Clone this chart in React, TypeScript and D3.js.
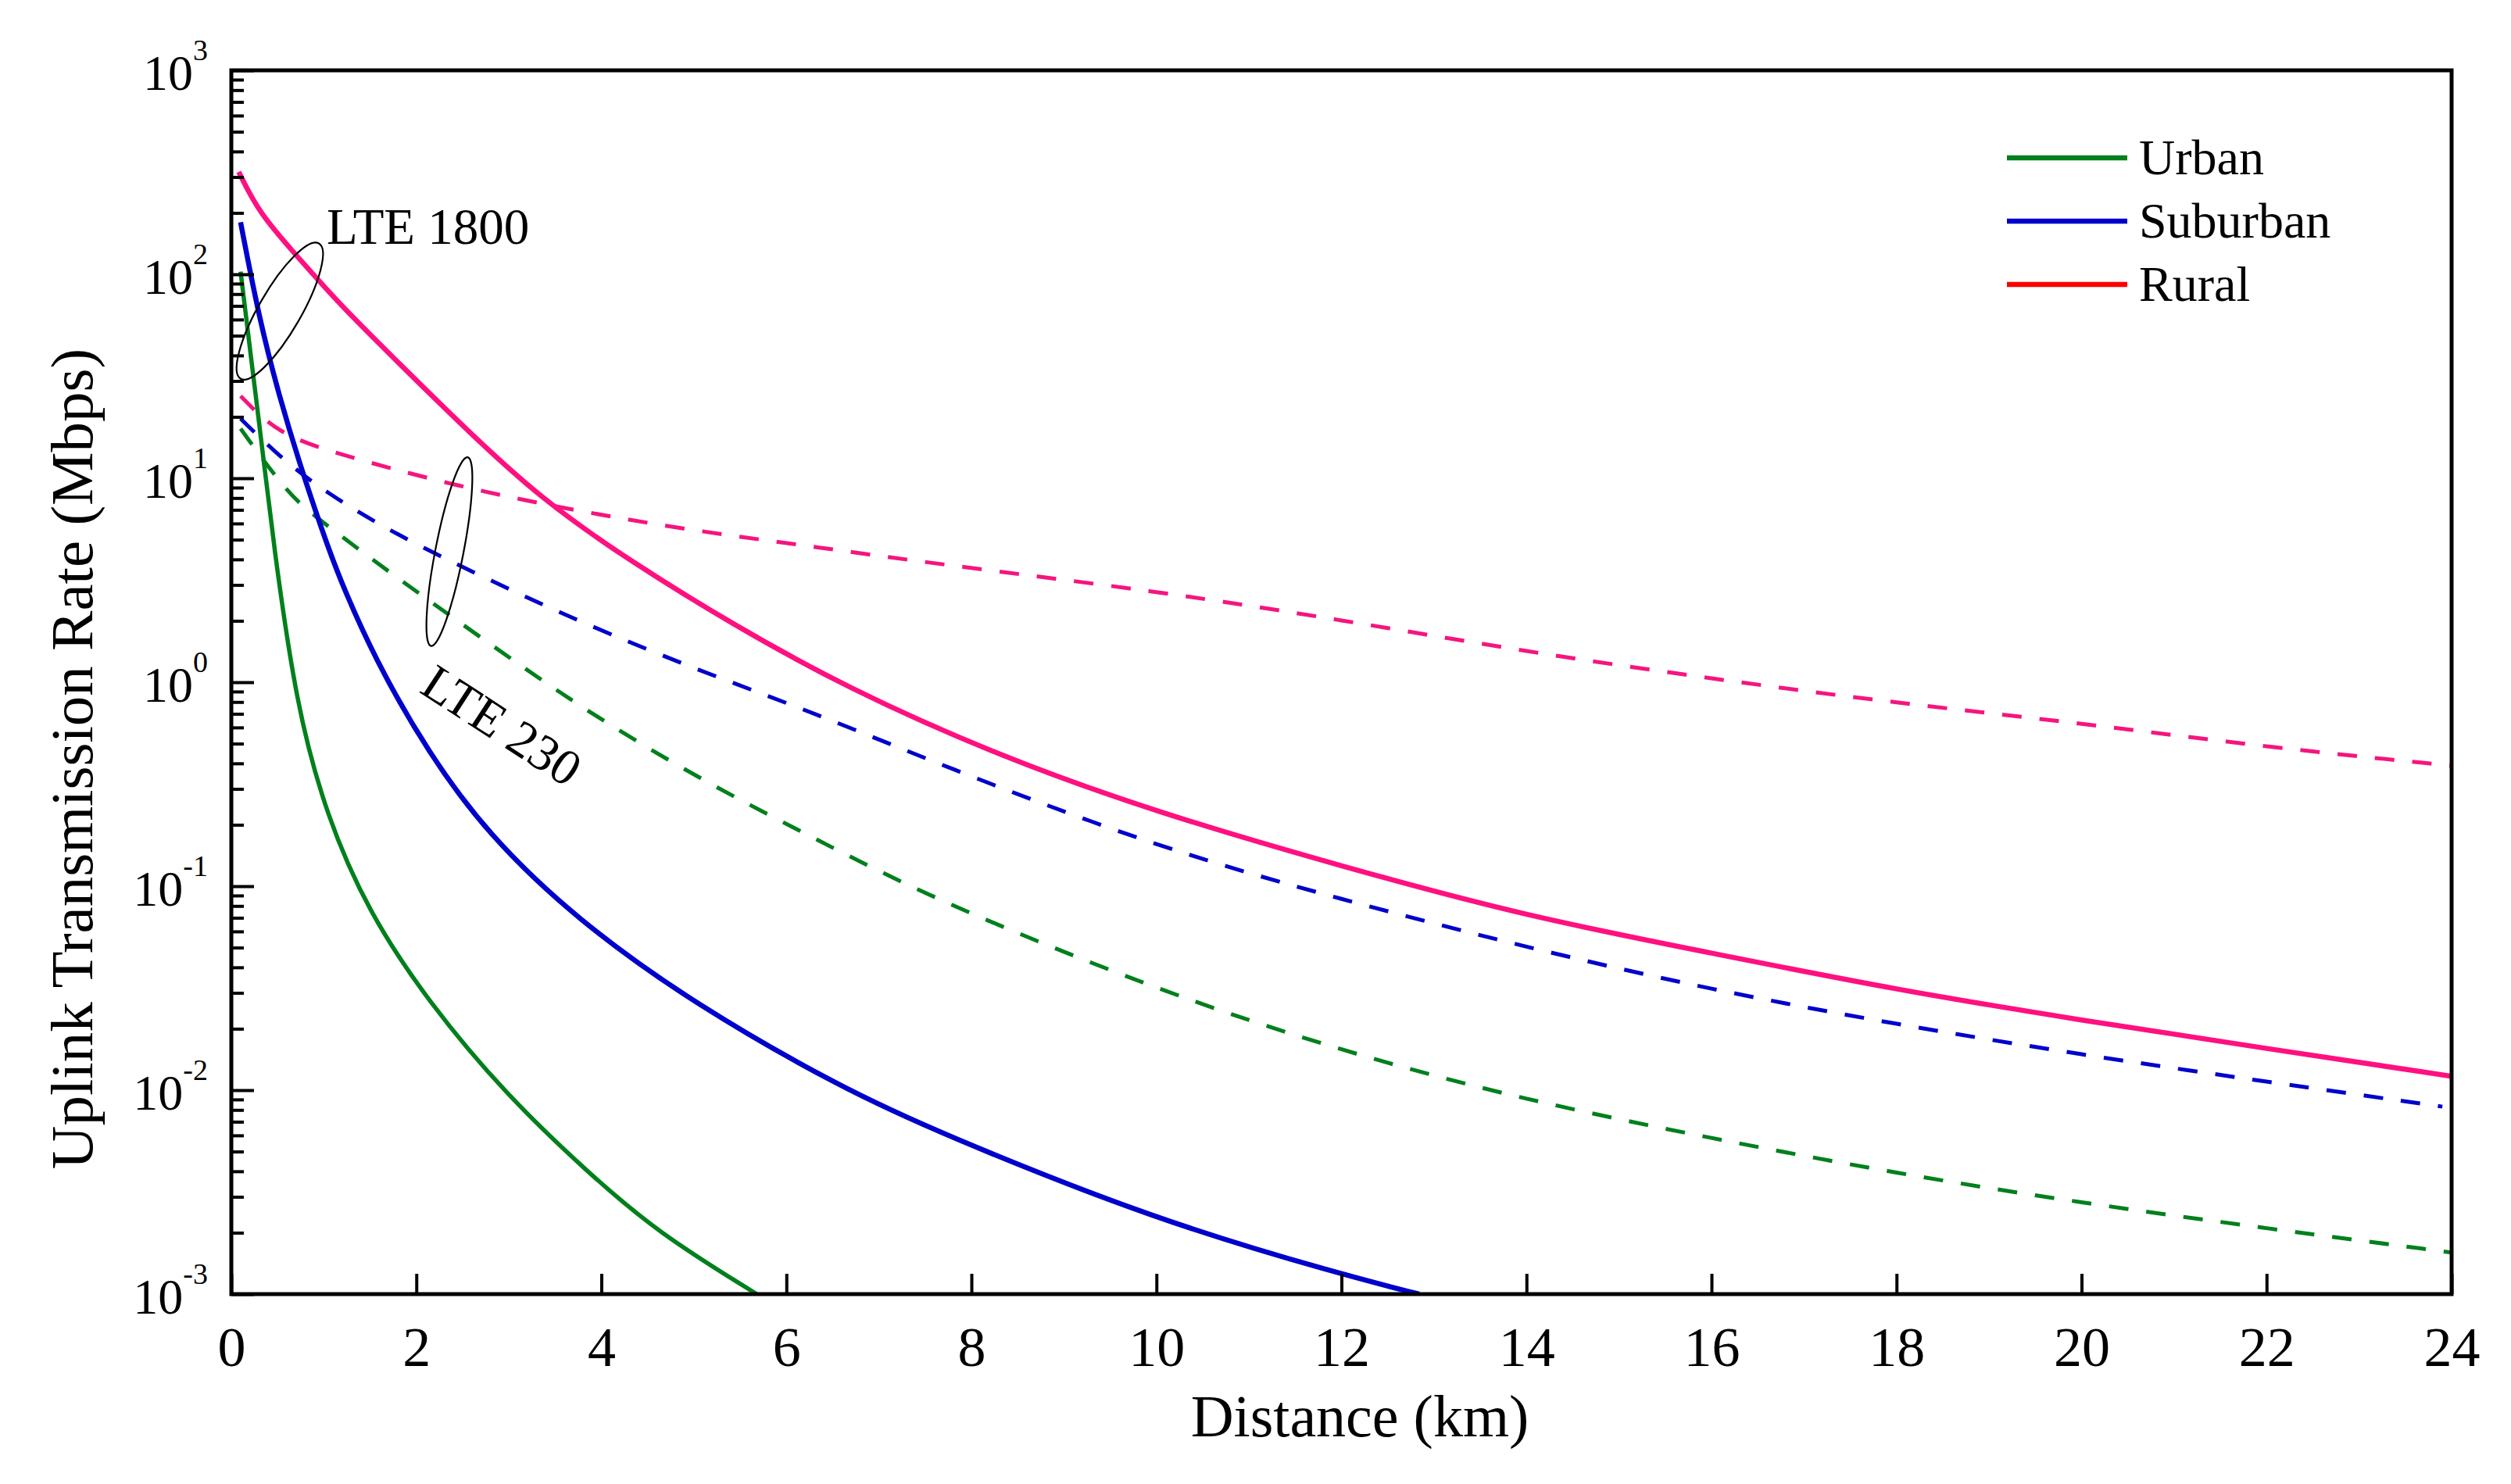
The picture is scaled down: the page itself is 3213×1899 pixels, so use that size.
import * as d3 from "d3";
import { useEffect, useRef } from "react";

const width = 3213;
const height = 1899;
const font = "'Liberation Serif', 'Times New Roman', serif";

// axis ticks
const xTicks = [0, 2, 4, 6, 8, 10, 12, 14, 16, 18, 20, 22, 24];
const yExponents = [-3, -2, -1, 0, 1, 2, 3];

// LTE 1800 (solid lines)
const urban1800Km = [0.1, 0.21, 0.34, 0.45, 0.7, 1.03, 1.48, 2.13, 2.97, 3.84, 4.61, 5.68];
const urban1800Rate = [103, 40, 13.4, 5.0, 0.77, 0.22, 0.075, 0.027, 0.0095, 0.004, 0.002, 0.001];

const suburban1800Km = [0.1, 0.3, 0.51, 0.73, 0.99, 1.16, 1.55, 2.13, 2.77, 3.74, 5.03, 6.59, 7.64, 10, 12, 12.84];
const suburban1800Rate = [180, 61, 26, 12.1, 5.4, 3.3, 1.3, 0.45, 0.18, 0.068, 0.026, 0.0103, 0.0062, 0.0023, 0.00125, 0.001];

const rural1800Km = [0.08, 0.3, 0.73, 1.16, 1.81, 2.53, 3.35, 4.32, 5.42, 6.65, 8.27, 10, 12, 14, 16, 18, 20, 22, 24];
const rural1800Rate = [318, 199, 120, 72, 36.7, 17.5, 7.9, 3.9, 1.92, 0.94, 0.44, 0.23, 0.125, 0.071, 0.047, 0.031, 0.022, 0.016, 0.0117];

// LTE 230 (dashed lines)
const urban230Km = [0.1, 0.6, 0.9, 1.81, 2.77, 3.74, 5.03, 6.33, 7.62, 10, 12, 14, 16, 18, 20, 22, 24];
const urban230Rate = [17.5, 8.5, 6.5, 3.2, 1.57, 0.77, 0.34, 0.169, 0.085, 0.031, 0.0155, 0.0089, 0.0058, 0.0039, 0.0028, 0.0021, 0.0016];

const suburban230Km = [0.1, 0.5, 1.0, 1.81, 2.77, 3.74, 5.03, 6.33, 7.62, 10, 12, 14, 16, 18, 20, 22, 23.9];
const suburban230Rate = [19.6, 13, 8.6, 5.2, 3.2, 2.0, 1.15, 0.7, 0.4, 0.155, 0.086, 0.05, 0.031, 0.021, 0.0149, 0.011, 0.0083];

const rural230Km = [0.1, 0.5, 1.16, 2.45, 3.74, 5.03, 6.33, 7.62, 10, 12, 14, 16, 18, 20, 22, 24];
const rural230Rate = [25.3, 16.5, 13.1, 9.1, 6.9, 5.5, 4.6, 3.8, 2.8, 2.02, 1.41, 1.04, 0.79, 0.63, 0.48, 0.39];

const legendNames = ["Urban", "Suburban", "Rural"];
const legendColors = ["#00801c", "#0000cd", "#ff0000"];

export default function App() {
  const svgRef = useRef<SVGSVGElement>(null);

  useEffect(() => {
    if (!svgRef.current) return;
    const svg = d3.select(svgRef.current);
    svg.selectAll("*").remove();

    const x = d3.scaleLinear().domain([0, 24]).range([296, 3137]);
    const y = d3.scaleLog().domain([1e-3, 1e3]).range([1656, 90]);

    svg.append("rect").attr("width", width).attr("height", height).attr("fill", "#fff");

    svg.append("defs").append("clipPath").attr("id", "plotArea")
      .append("rect")
      .attr("x", x(0)).attr("y", y(1e3))
      .attr("width", x(24) - x(0)).attr("height", y(1e-3) - y(1e3));

    // curves
    const series = [
      { km: urban230Km, rate: urban230Rate, color: "#00801c", dash: "25 23", w: 5 },
      { km: suburban230Km, rate: suburban230Rate, color: "#0000cd", dash: "25 23", w: 5 },
      { km: rural230Km, rate: rural230Rate, color: "#f5157f", dash: "25 23", w: 5 },
      { km: urban1800Km, rate: urban1800Rate, color: "#00801c", dash: null, w: 5.5 },
      { km: suburban1800Km, rate: suburban1800Rate, color: "#0000cd", dash: null, w: 6.5 },
      { km: rural1800Km, rate: rural1800Rate, color: "#ff1080", dash: null, w: 6.5 },
    ];
    const line = d3.line<[number, number]>()
      .x(d => x(d[0]))
      .y(d => y(d[1]))
      .curve(d3.curveBasis);

    const plot = svg.append("g").attr("clip-path", "url(#plotArea)");
    series.forEach(s => {
      plot.append("path")
        .datum(s.km.map((k, i) => [k, s.rate[i]] as [number, number]))
        .attr("fill", "none")
        .attr("stroke", s.color)
        .attr("stroke-width", s.w)
        .attr("stroke-dasharray", s.dash)
        .attr("d", line);
    });

    // x axis
    const gx = svg.append("g")
      .attr("transform", `translate(0,${y(1e-3)})`)
      .call(d3.axisBottom(x).tickValues(xTicks).tickSizeInner(-26).tickSizeOuter(0).tickFormat(d3.format("d")));
    gx.select(".domain").remove();
    gx.selectAll(".tick line").attr("stroke", "#000").attr("stroke-width", 4);
    gx.selectAll(".tick text")
      .attr("y", 92).attr("dy", null)
      .attr("font-family", font).attr("font-size", 72).attr("fill", "#000");

    // y axis: major and minor ticks
    const decades = yExponents.map(e => Math.pow(10, e));
    const minors = yExponents.slice(0, -1).flatMap(e => d3.range(2, 10).map(m => m * Math.pow(10, e)));
    const gy = svg.append("g")
      .attr("transform", `translate(${x(0)},0)`)
      .call(d3.axisLeft(y).tickValues(decades).tickSizeInner(-29).tickSizeOuter(0).tickFormat(() => ""));
    gy.select(".domain").remove();
    gy.selectAll(".tick line").attr("stroke", "#000").attr("stroke-width", 4);
    const gyMinor = svg.append("g")
      .attr("transform", `translate(${x(0)},0)`)
      .call(d3.axisLeft(y).tickValues(minors).tickSizeInner(-16).tickSizeOuter(0).tickFormat(() => ""));
    gyMinor.select(".domain").remove();
    gyMinor.selectAll(".tick line").attr("stroke", "#000").attr("stroke-width", 4);

    yExponents.forEach(e => {
      const t = svg.append("text")
        .attr("x", 266)
        .attr("y", y(Math.pow(10, e)) + 25)
        .attr("text-anchor", "end")
        .attr("font-family", font)
        .attr("fill", "#000");
      t.append("tspan").attr("font-size", 64).text("10");
      t.append("tspan").attr("font-size", 38).attr("dy", -38).text(String(e));
    });

    // frame
    svg.append("rect")
      .attr("x", x(0)).attr("y", y(1e3))
      .attr("width", x(24) - x(0)).attr("height", y(1e-3) - y(1e3))
      .attr("fill", "none").attr("stroke", "#000").attr("stroke-width", 5);

    // axis titles
    svg.append("text")
      .attr("x", 1740).attr("y", 1838)
      .attr("text-anchor", "middle")
      .attr("font-family", font).attr("font-size", 76)
      .text("Distance (km)");
    svg.append("text")
      .attr("transform", "translate(118,971) rotate(-90)")
      .attr("text-anchor", "middle")
      .attr("font-family", font).attr("font-size", 77)
      .text("Uplink Transmission Rate (Mbps)");

    // annotations
    svg.append("ellipse")
      .attr("transform", `translate(${x(0.524)},${y(66)}) rotate(-60)`)
      .attr("rx", 100).attr("ry", 27)
      .attr("fill", "none").attr("stroke", "#000").attr("stroke-width", 2.2);
    svg.append("text")
      .attr("x", x(1.03)).attr("y", y(141))
      .attr("font-family", font).attr("font-size", 65)
      .text("LTE 1800");
    svg.append("ellipse")
      .attr("transform", `translate(${x(2.357)},${y(4.37)}) rotate(-79)`)
      .attr("rx", 123).attr("ry", 18)
      .attr("fill", "none").attr("stroke", "#000").attr("stroke-width", 2.2);
    svg.append("text")
      .attr("transform", `translate(${x(2.02)},${y(0.9)}) rotate(33)`)
      .attr("font-family", font).attr("font-size", 65)
      .text("LTE 230");

    // legend
    legendNames.forEach((name, i) => {
      const ly = 202 + i * 81;
      svg.append("line")
        .attr("x1", 2568).attr("x2", 2722).attr("y1", ly).attr("y2", ly)
        .attr("stroke", legendColors[i]).attr("stroke-width", 6.5);
      svg.append("text")
        .attr("x", 2737).attr("y", ly + 21)
        .attr("font-family", font).attr("font-size", 64)
        .text(name);
    });
  }, []);

  return (
    <div style={{ position: "absolute", left: 0, top: 0 }}>
      <svg ref={svgRef} width={width} height={height} />
    </div>
  );
}
